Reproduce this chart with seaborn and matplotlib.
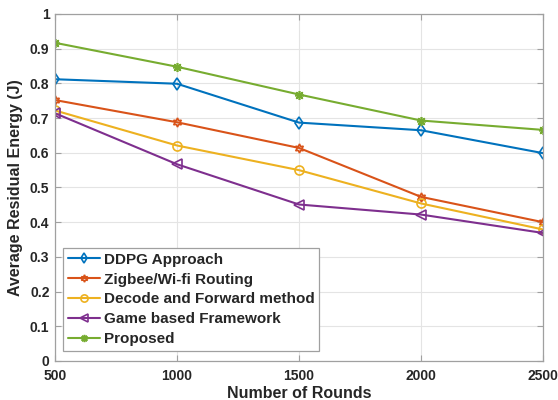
import matplotlib
matplotlib.use("Agg")
import matplotlib.pyplot as plt
import pandas as pd
import seaborn as sns

# values
rounds = [500, 1000, 1500, 2000, 2500]
ddpg = [0.812, 0.799, 0.687, 0.665, 0.599]
zigbee = [0.752, 0.688, 0.614, 0.473, 0.400]
decode = [0.722, 0.621, 0.550, 0.454, 0.379]
game = [0.714, 0.567, 0.451, 0.422, 0.369]
proposed = [0.917, 0.848, 0.768, 0.693, 0.666]

labels = ["DDPG Approach", "Zigbee/Wi-fi Routing", "Decode and Forward method",
          "Game based Framework", "Proposed"]
colors = ["#0072BD", "#D95319", "#EDB120", "#7E2F8E", "#77AC30"]
markers = ["d", (6, 1, 0), "o", "<", (8, 2, 0)]

df = pd.DataFrame({
    "rounds": rounds * 5,
    "energy": ddpg + zigbee + decode + game + proposed,
    "method": [lab for lab in labels for _ in rounds],
})

sns.set_theme(style="white")
plt.rcParams["font.family"] = ["Liberation Sans", "DejaVu Sans"]
plt.rcParams["font.weight"] = "bold"

fig = plt.figure(figsize=(5.58, 4.0), dpi=100)
ax = fig.add_axes([0.0986, 0.0975, 0.8746, 0.8675])

for lab, col, mk in zip(labels, colors, markers):
    sub = df[df["method"] == lab]
    sns.lineplot(data=sub, x="rounds", y="energy", ax=ax, color=col, label=lab,
                 marker=mk, markersize=6.5, markerfacecolor="none",
                 markeredgecolor=col, markeredgewidth=1.2, linewidth=1.5)

ax.set_xlim(500, 2500)
ax.set_ylim(0, 1)
ax.set_xticks(rounds)
ax.set_yticks([i / 10 for i in range(11)])
ax.set_yticklabels(["0"] + [f"{i/10:.1f}" for i in range(1, 10)] + ["1"])
ax.grid(True, color="#e4e4e4", linewidth=0.8)
ax.tick_params(direction="in", length=4, labelsize=10, colors="#a0a0a0",
               labelcolor="#262626", top=True, right=True, bottom=True, left=True,
               width=0.8)
ax.tick_params(axis="x", pad=6)
ax.tick_params(axis="y", pad=4)
for lbl in ax.get_xticklabels() + ax.get_yticklabels():
    lbl.set_fontweight("bold")
for sp in ax.spines.values():
    sp.set_color("#a0a0a0")
    sp.set_linewidth(0.9)

ax.set_xlabel("Number of Rounds", fontsize=11.5, fontweight="bold", color="#262626", labelpad=2)
ax.set_ylabel("Average Residual Energy (J)", fontsize=11.5, fontweight="bold", color="#262626", labelpad=5)

leg = ax.legend(loc="lower left", bbox_to_anchor=(0.0164, 0.03), fontsize=11,
                frameon=True, fancybox=False, framealpha=1, edgecolor="#a0a0a0",
                handlelength=2.1, borderpad=0.3, labelspacing=0.38, handletextpad=0.25,
                borderaxespad=0, markerscale=0.8)
leg.get_frame().set_linewidth(0.9)
for t in leg.get_texts():
    t.set_fontweight("bold")

fig.savefig("out.png", dpi=100)
